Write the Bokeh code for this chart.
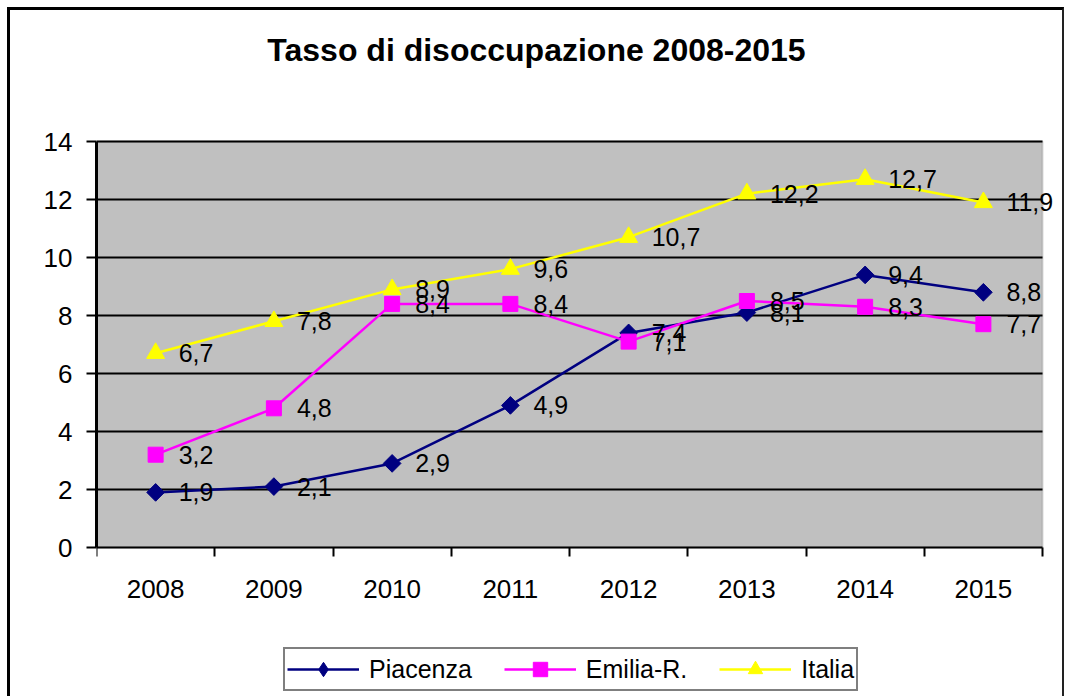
import numpy as np
from bokeh.plotting import figure
from bokeh.models import (ColumnDataSource, FixedTicker, Legend, LegendItem, Range1d,
                          BoxAnnotation, Label)
from bokeh.embed import file_html
from bokeh.resources import INLINE
from bokeh.core.properties import value

# ---- data ----
years = ["2008", "2009", "2010", "2011", "2012", "2013", "2014", "2015"]
piacenza = [1.9, 2.1, 2.9, 4.9, 7.4, 8.1, 9.4, 8.8]
emilia = [3.2, 4.8, 8.4, 8.4, 7.1, 8.5, 8.3, 7.7]
italia = [6.7, 7.8, 8.9, 9.6, 10.7, 12.2, 12.7, 11.9]
y_ticks = [0, 2, 4, 6, 8, 10, 12, 14]
title_text = "Tasso di disoccupazione 2008-2015"

FONT = "Liberation Sans"
n = len(years)
xs = list(range(1, n + 1))

# ---- layout (pixels) ----
CANVAS_W, CANVAS_H = 1052, 686
LEFT = 86                      # room for y tick labels
PLOT_W, PLOT_H = 946, 406      # size of the grey plot area
PLOT_TOP = 131                 # grey area top, from canvas top
FRAME_W = CANVAS_W - LEFT
px_x = PLOT_W / n
px_y = PLOT_H / (y_ticks[-1] - y_ticks[0])
x_lo = 0.5
x_hi = x_lo + FRAME_W / px_x
y_hi = y_ticks[-1] + PLOT_TOP / px_y
y_lo = y_hi - CANVAS_H / px_y

p = figure(frame_width=FRAME_W, frame_height=CANVAS_H, output_backend="svg",
           toolbar_location=None,
           x_range=Range1d(x_lo, x_hi), y_range=Range1d(y_lo, y_hi),
           min_border_left=LEFT, min_border_right=0, min_border_top=0,
           min_border_bottom=0,
           background_fill_color="white", border_fill_color="white")
p.styles = {"margin-left": "7px", "margin-top": "7px",
            "border-top": "3px solid black", "border-left": "3px solid black",
            "border-right": "2px solid #222222"}
p.outline_line_color = None
p.xgrid.grid_line_color = None
p.ygrid.grid_line_color = None

# grey plot area
p.add_layout(BoxAnnotation(left=0.5, right=n + 0.5, bottom=y_ticks[0], top=y_ticks[-1],
                           fill_color="#C0C0C0", fill_alpha=1,
                           line_color="#808080", line_width=2, level="underlay"))

# horizontal grid lines limited to the plot area
gsrc = ColumnDataSource(dict(y=y_ticks[1:], x0=[0.5] * (len(y_ticks) - 1),
                             x1=[n + 0.5] * (len(y_ticks) - 1)))
p.segment(x0="x0", x1="x1", y0="y", y1="y", source=gsrc, line_color="black", line_width=2)

# title
p.add_layout(Label(x=440, y=CANVAS_H - 61 + 10 + 12, x_units="screen", y_units="screen",
                   text=title_text, text_font=FONT, text_font_size="32px",
                   text_font_style="bold", text_align="center",
                   text_baseline="alphabetic", text_color="black"))

# y axis
p.yaxis.ticker = FixedTicker(ticks=y_ticks)
p.yaxis.bounds = (y_ticks[0], y_ticks[-1])
p.yaxis.axis_line_color = "black"
p.yaxis.axis_line_width = 3
p.yaxis.major_tick_out = 10
p.yaxis.major_tick_in = 0
p.yaxis.major_tick_line_width = 2
p.yaxis.minor_tick_line_color = None
p.yaxis.major_label_text_font = FONT
p.yaxis.major_label_text_font_size = "26px"
p.yaxis.major_label_text_color = "black"
p.yaxis.major_label_standoff = 14

# x axis at y = 0 (categories at integer positions, ticks between categories)
p.xaxis.fixed_location = y_ticks[0]
p.xaxis.bounds = (0.5, n + 0.5)
p.xaxis.ticker = FixedTicker(ticks=xs, minor_ticks=[i + 0.5 for i in range(n + 1)])
p.xaxis.major_label_overrides = {i: y for i, y in zip(xs, years)}
p.xaxis.axis_line_color = "black"
p.xaxis.axis_line_width = 2
p.xaxis.major_tick_out = 0
p.xaxis.major_tick_in = 0
p.xaxis.minor_tick_out = 9
p.xaxis.minor_tick_in = 0
p.xaxis.minor_tick_line_color = "black"
p.xaxis.minor_tick_line_width = 2
p.xaxis.major_label_text_font = FONT
p.xaxis.major_label_text_font_size = "26px"
p.xaxis.major_label_text_color = "black"
p.xaxis.major_label_standoff = 23

series = [
    ("Piacenza", piacenza, "#000080", "square", 12.5, np.pi / 4, "diamond"),
    ("Emilia-R.", emilia, "#FF00FF", "square", 15, 0, "square"),
    ("Italia", italia, "#FFFF00", "triangle", 18, 0, "triangle"),
]

items = []
for name, vals, color, marker, size, ang, leg_marker in series:
    src = ColumnDataSource(dict(x=xs, y=vals))
    r1 = p.line("x", "y", source=src, line_color=color, line_width=2.5)
    p.scatter("x", "y", source=src, marker=marker, size=size, angle=ang,
              fill_color=color, line_color=color)
    # legend-only marker renderer (hidden in the plot area)
    r3 = p.scatter("x", "y", source=src, marker=leg_marker, size=size,
                   fill_color=color, line_color=color, visible=False)
    items.append(LegendItem(label=name, renderers=[r1, r3]))

for name, vals, color, marker, size, ang, leg_marker in series:
    src = ColumnDataSource(dict(x=xs, y=vals,
                                lab=[f"{v:.1f}".replace(".", ",") for v in vals]))
    p.text("x", "y", text="lab", source=src, x_offset=23, y_offset=0,
           text_align="left", text_baseline="middle",
           text_font=value(FONT), text_font_size="25px", text_color="black")

legend = Legend(items=items, orientation="horizontal", location=(187, 5),
                border_line_color="black", border_line_width=2,
                background_fill_color="white", background_fill_alpha=1,
                label_text_font=FONT, label_text_font_size="25px",
                label_text_color="black",
                glyph_width=72, glyph_height=36, label_standoff=10,
                spacing=32, padding=2, margin=0, click_policy="none")
p.add_layout(legend, "center")

open("out.html", "w").write(file_html(p, INLINE))
